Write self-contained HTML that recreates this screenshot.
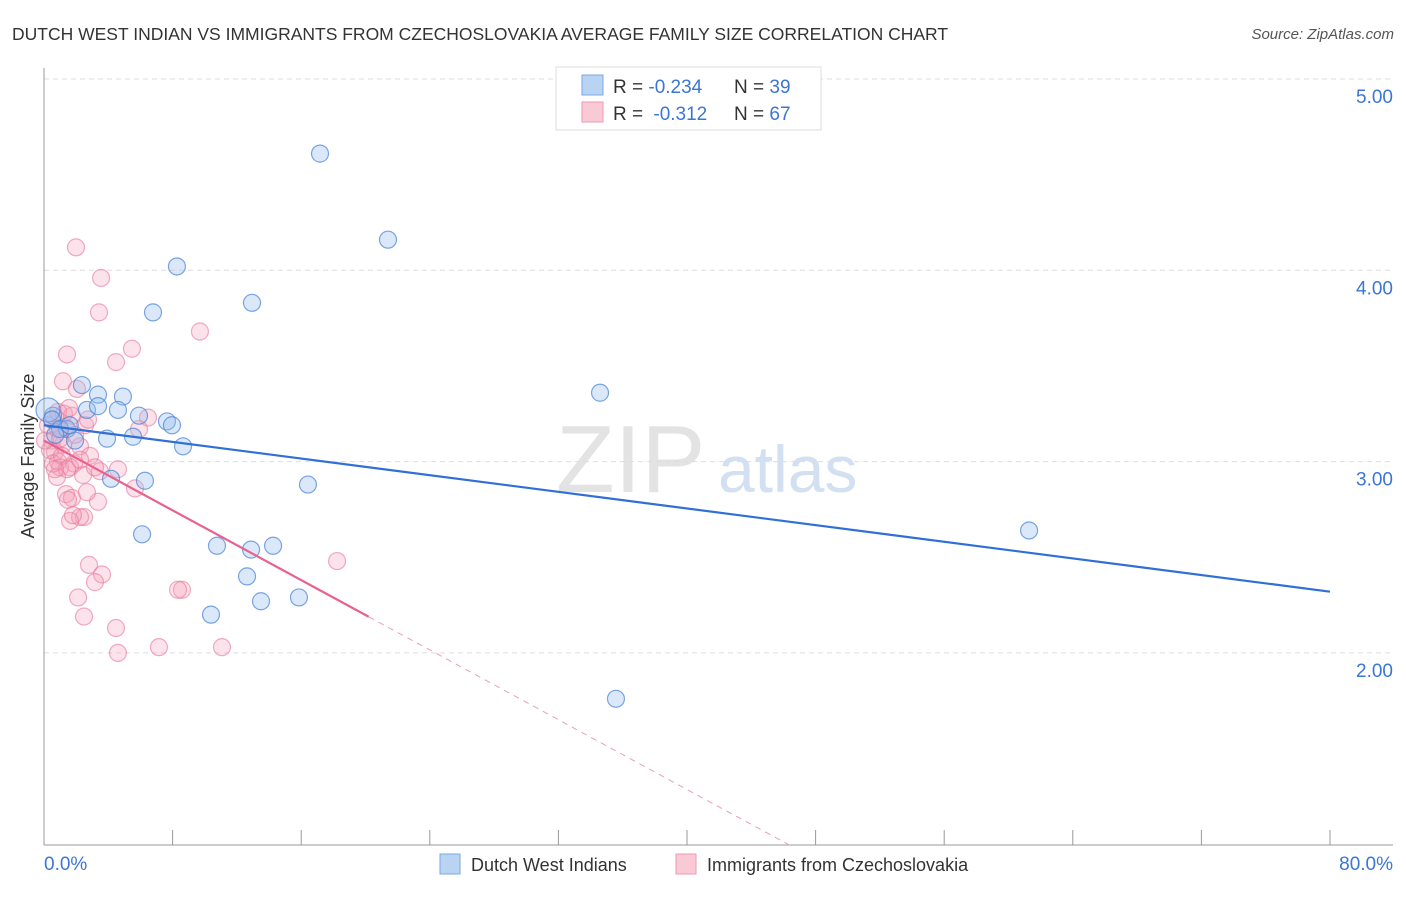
<!DOCTYPE html>
<html><head><meta charset="utf-8"><style>
body{margin:0;background:#fff;font-family:"Liberation Sans",sans-serif;}
svg text{font-family:"Liberation Sans",sans-serif;}
</style></head><body>
<svg id="chart" width="1406" height="892">
<text x="12" y="40" font-size="17.5" fill="#333">DUTCH WEST INDIAN VS IMMIGRANTS FROM CZECHOSLOVAKIA AVERAGE FAMILY SIZE CORRELATION CHART</text>
<text x="1394" y="39" font-size="15" fill="#555" font-style="italic" text-anchor="end">Source: ZipAtlas.com</text>
<g>
<text x="556" y="492" font-size="96" fill="#e3e3e3" font-family="Liberation Serif">ZIP</text>
<text x="718" y="492" font-size="66" fill="#d3e0f2">atlas</text>
</g>
<g id="grid"></g>
<g id="axes"></g>
<g id="marks"></g>
<text transform="translate(34,456) rotate(-90)" font-size="18" fill="#333" text-anchor="middle">Average Family Size</text>
<g>
<rect x="556" y="67" width="265" height="63" fill="#fff" stroke="#ddd"/>
<rect x="582" y="75" width="21" height="20" fill="#b9d3f3" stroke="#7aaae6"/>
<text x="613" y="93" font-size="19" fill="#333">R = <tspan fill="#3b76d4">-0.234</tspan></text>
<text x="734" y="93" font-size="19" fill="#333">N = <tspan fill="#3b76d4">39</tspan></text>
<rect x="582" y="102" width="21" height="20" fill="#f9c9d6" stroke="#ee9ab1"/>
<text x="613" y="120" font-size="19" fill="#333">R = <tspan fill="#3b76d4" dx="5">-0.312</tspan></text>
<text x="734" y="120" font-size="19" fill="#333">N = <tspan fill="#3b76d4">67</tspan></text>
</g>
<g>
<rect x="440" y="854" width="20" height="20" fill="#b9d3f3" stroke="#7aaae6"/>
<text x="471" y="871" font-size="18" fill="#333">Dutch West Indians</text>
<rect x="676" y="854" width="20" height="20" fill="#f9c9d6" stroke="#ee9ab1"/>
<text x="707" y="871" font-size="18" fill="#333">Immigrants from Czechoslovakia</text>
</g>
</svg>
<script>
const yTicks=[2,3,4,5];
const yTickLabels=["2.00","3.00","4.00","5.00"];
const xLabels=["0.0%","80.0%"];
const blueX=[17.17,21.4,8.27,12.94,6.78,34.59,2.36,3.36,4.91,2.67,3.36,4.6,5.91,7.65,7.96,0.56,1.43,3.92,5.54,8.65,4.17,6.28,16.42,61.28,6.1,10.76,12.88,14.25,12.63,15.86,13.5,10.39,35.58,0.25,0.5,1.0,1.93,0.7,1.6];
const blueY=[4.61,4.16,4.02,3.83,3.78,3.36,3.40,3.35,3.34,3.27,3.29,3.27,3.24,3.21,3.19,3.24,3.17,3.12,3.13,3.08,2.91,2.90,2.88,2.64,2.62,2.56,2.54,2.56,2.40,2.29,2.27,2.20,1.76,3.27,3.22,3.17,3.11,3.14,3.19];
const pinkX=[1.99,3.55,3.42,9.7,5.47,4.48,1.43,1.18,2.05,6.47,1.24,0.87,1.74,5.91,1.18,2.24,0.5,0.68,0.87,1.0,1.87,2.86,4.6,3.48,1.62,0.81,2.43,5.66,1.37,1.74,3.36,2.49,2.24,1.62,2.8,3.61,3.17,2.12,2.49,4.48,4.6,7.15,11.07,8.58,8.34,18.23,1.0,0.37,1.31,1.93,2.55,0.25,0.56,1.12,1.49,1.8,2.67,3.17,0.06,0.5,0.87,1.56,2.74,1.43,0.68,2.24];
const pinkY=[4.12,3.96,3.78,3.68,3.59,3.52,3.56,3.42,3.38,3.23,3.25,3.26,3.24,3.17,3.09,3.08,3.11,3.05,3.00,2.97,2.99,3.03,2.96,2.95,2.97,2.92,2.93,2.86,2.83,2.81,2.79,2.71,2.71,2.69,2.46,2.41,2.37,2.29,2.19,2.13,2.00,2.03,2.03,2.33,2.33,2.48,3.12,3.06,3.18,3.14,3.19,3.19,2.99,3.03,2.80,2.72,2.84,2.97,3.11,3.22,3.17,3.28,3.22,2.96,2.96,3.01];
const blueTrend=[3.19,2.32];
const pinkTrend=[3.11,-0.0456];
const X0=44,X1=1330,YT=79;
function sx(v){return X0+(X1-X0)*v/80;}
function sy(v){return YT+(5-v)*191.3;}
const NS="http://www.w3.org/2000/svg";
function mk(tag,attrs,parent){const e=document.createElementNS(NS,tag);for(const k in attrs)e.setAttribute(k,attrs[k]);parent.appendChild(e);return e;}
const grid=document.getElementById('grid'),axes=document.getElementById('axes'),marks=document.getElementById('marks');
yTicks.forEach((t,i)=>{
 const l=mk('line',{x1:44,x2:1393,y1:sy(t),y2:sy(t),stroke:'#ddd','stroke-dasharray':'5,4'},grid);
 
 
 const tx=mk('text',{x:1393,y:sy(t)+24,'font-size':19,fill:'#3b76d4','text-anchor':'end'},axes);
 tx.textContent=yTickLabels[i];
 
 
});
let a=mk('line',{x1:44,x2:44,y1:68,y2:845,stroke:'#999'},axes);


a=mk('line',{x1:44,x2:1393,y1:845,y2:845,stroke:'#999'},axes);


for(let i=1;i<=10;i++){
 const tk=mk('line',{x1:sx(i*8),x2:sx(i*8),y1:830,y2:845,stroke:'#999'},axes);
 
 
}
[[0,'start',44],[80,'end',1393]].forEach((p,i)=>{
 const tx=mk('text',{x:p[2],y:870,'font-size':19,fill:'#3b76d4','text-anchor':p[1]},axes);
 tx.textContent=xLabels[i];
 
 
});
pinkX.forEach((x,i)=>{
 const c=mk('circle',{cx:sx(x),cy:sy(pinkY[i]),r:8.5,fill:'rgba(244,160,186,0.3)',stroke:'rgba(232,120,155,0.6)','stroke-width':1.2},marks);
 
 
});
blueX.forEach((x,i)=>{
 const c=mk('circle',{cx:sx(x),cy:sy(blueY[i]),r:i==33?12:8.5,fill:'rgba(150,190,238,0.35)',stroke:'rgba(70,130,215,0.7)','stroke-width':1.2},marks);
 
 
});
let t=mk('line',{x1:sx(0),y1:sy(blueTrend[0]),x2:sx(80),y2:sy(blueTrend[1]),stroke:'#2f6fd6','stroke-width':2.2},marks);


const pe=20.2,pd=46.4;
t=mk('line',{x1:sx(0),y1:sy(pinkTrend[0]),x2:sx(pe),y2:sy(pinkTrend[0]+pinkTrend[1]*pe),stroke:'#e8628f','stroke-width':2.2},marks);


t=mk('line',{x1:sx(pe),y1:sy(pinkTrend[0]+pinkTrend[1]*pe),x2:sx(pd),y2:sy(pinkTrend[0]+pinkTrend[1]*pd),stroke:'#e8a0b8','stroke-width':1,'stroke-dasharray':'6,5'},marks);


</script>
</body></html>
